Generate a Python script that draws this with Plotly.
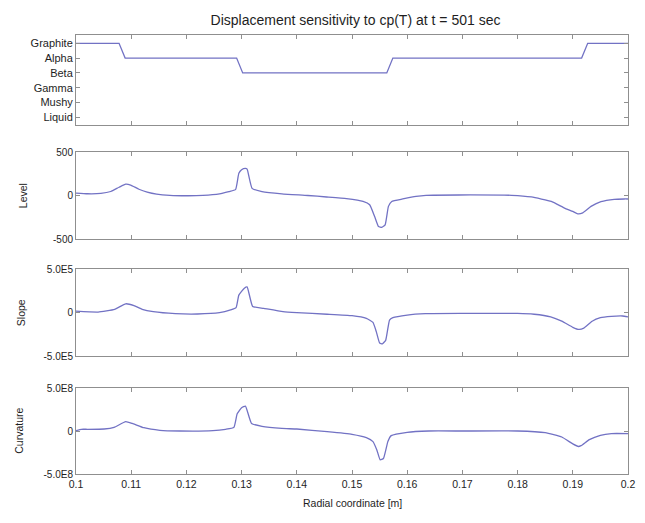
import plotly.graph_objects as go

# ---------------- data ----------------
phase_labels = ["Liquid", "Mushy", "Gamma", "Beta", "Alpha", "Graphite"]
phase_x = [0.100, 0.1078, 0.1089, 0.1291, 0.1302, 0.1563, 0.1574, 0.1916, 0.1927, 0.200]
phase_y = [5, 5, 4, 4, 3, 3, 4, 4, 5, 5]

level_x = [0.100, 0.1021, 0.1045, 0.1063, 0.1078, 0.109, 0.1099, 0.1114, 0.1129, 0.1146,
           0.117, 0.120, 0.123, 0.126, 0.1277, 0.1289, 0.1295, 0.130, 0.1307, 0.131,
           0.1319, 0.1337, 0.1373, 0.142, 0.1454, 0.149, 0.152, 0.1532, 0.1541, 0.1548,
           0.1554, 0.156, 0.1566, 0.1572, 0.1592, 0.1616, 0.1634, 0.1693, 0.1789, 0.1825,
           0.1861, 0.1885, 0.190, 0.1909, 0.1918, 0.1933, 0.1951, 0.1975, 0.1993, 0.200]
level_y = [28, 20, 24, 46, 95, 130, 120, 72, 40, 17,
           2, -3, 1, 19, 45, 67, 255, 296, 311, 303,
           82, 45, 19, 0, -17, -37, -68, -106, -241, -357,
           -365, -338, -125, -68, -40, -10, 2, 6, 2, -17,
           -68, -145, -183, -210, -199, -125, -71, -44, -40, -40]

slope_x = [0.100, 0.104, 0.107, 0.109, 0.1105, 0.112, 0.114, 0.118, 0.122, 0.126,
           0.128, 0.129, 0.1295, 0.1305, 0.131, 0.132, 0.134, 0.1375, 0.140, 0.1455,
           0.150, 0.1526, 0.1538, 0.1544, 0.155, 0.1555, 0.1561, 0.1568, 0.1574, 0.160,
           0.1633, 0.170, 0.180, 0.183, 0.186, 0.188, 0.190, 0.1911, 0.192, 0.1935,
           0.195, 0.197, 0.199, 0.200]
slope_y = [1.5e4, 0.5e4, 3.7e4, 1.0e5, 8.0e4, 3.7e4, 1.0e4, -1.3e4, -1.7e4, -0.2e4,
           3.0e4, 5.6e4, 2.0e5, 2.8e5, 2.95e5, 7.0e4, 4.8e4, 1.0e4, -0.2e4, -2.0e4,
           -3.7e4, -6.8e4, -1.14e5, -2.2e5, -3.5e5, -3.6e5, -3.2e5, -8.7e4, -6.0e4, -2.9e4,
           -1.3e4, -1.0e4, -1.0e4, -2.0e4, -5.0e4, -1.0e5, -1.7e5, -1.95e5, -1.8e5, -1.0e5,
           -6.0e4, -4.5e4, -4.0e4, -5.0e4]

curv_x = [0.100, 0.101, 0.1021, 0.1051, 0.1069, 0.109, 0.1102, 0.1123, 0.1152, 0.1188,
          0.1248, 0.1271, 0.1286, 0.1292, 0.130, 0.1307, 0.1318, 0.1337, 0.1373, 0.140,
          0.1455, 0.150, 0.1526, 0.1538, 0.1545, 0.1551, 0.1557, 0.1565, 0.1571, 0.160,
          0.1639, 0.170, 0.180, 0.185, 0.188, 0.190, 0.191, 0.1915, 0.193, 0.195,
          0.197, 0.200]
curv_y = [0.5e7, 2.0e7, 2.0e7, 2.3e7, 4.2e7, 1.08e8, 8.8e7, 3.8e7, 0.8e7, 0.0,
          0.4e7, 2.0e7, 4.2e7, 2.0e8, 2.7e8, 2.9e8, 8.8e7, 5.4e7, 3.0e7, 2.3e7,
          -0.8e7, -3.8e7, -7.7e7, -1.23e8, -2.2e8, -3.35e8, -3.2e8, -1.23e8, -5.4e7, -1.5e7,
          0.0, 0.0, 0.0, -2.0e7, -7.0e7, -1.5e8, -1.8e8, -1.7e8, -1.0e8, -5.0e7,
          -3.0e7, -3.0e7]

x_tickvals = [0.10, 0.11, 0.12, 0.13, 0.14, 0.15, 0.16, 0.17, 0.18, 0.19, 0.20]
x_ticktext = ["0.1", "0.11", "0.12", "0.13", "0.14", "0.15", "0.16", "0.17", "0.18", "0.19", "0.2"]
level_ticks = [-500, 0, 500]
level_ticktext = ["-500", "0", "500"]
slope_ticks = [-5.0e5, 0, 5.0e5]
slope_ticktext = ["-5.0E5", "0", "5.0E5"]
curv_ticks = [-5.0e8, 0, 5.0e8]
curv_ticktext = ["-5.0E8", "0", "5.0E8"]

title_text = "Displacement sensitivity to cp(T) at t = 501 sec"
xlabel = "Radial coordinate [m]"
ylabels = ["Level", "Slope", "Curvature"]

# ---------------- figure ----------------
W, H = 645, 523
ML, MR, MT, MB = 76, 10, 35, 49
PW = W - ML - MR
PH = H - MT - MB

def dom(top_px, bot_px):
    return [(H - MB - bot_px) / PH, (H - MB - top_px) / PH]

line_col = "#7272c4"
axis_col = "#8f8f8f"
text_col = "#1e1e1e"
font_fam = "Liberation Sans, Arial, sans-serif"

fig = go.Figure()
series = [(phase_x, phase_y), (level_x, level_y), (slope_x, slope_y), (curv_x, curv_y)]
for i, (xs, ys) in enumerate(series):
    sfx = "" if i == 0 else str(i + 1)
    fig.add_trace(go.Scatter(x=xs, y=ys, mode="lines", xaxis="x" + sfx, yaxis="y" + sfx,
                             line=dict(color=line_col, width=1.3, shape="spline",
                                       smoothing=0.4),
                             showlegend=False, hoverinfo="skip"))
fig.data[0].line.shape = "linear"

domains = [dom(35, 125), dom(152, 239), dom(269, 356), dom(388, 474)]
common_ax = dict(showline=True, mirror="ticks", linecolor=axis_col, linewidth=1,
                 ticks="inside", ticklen=4, tickcolor=axis_col, showgrid=False,
                 zeroline=False, tickfont=dict(size=10, color=text_col, family=font_fam))

layout = dict(width=W, height=H, margin=dict(l=ML, r=MR, t=MT, b=MB),
              paper_bgcolor="white", plot_bgcolor="white",
              font=dict(family=font_fam, color=text_col))
for i in range(4):
    sfx = "" if i == 0 else str(i + 1)
    xa = dict(common_ax, domain=[0, 1], range=[0.1, 0.2], anchor="y" + sfx,
              tickvals=x_tickvals, ticktext=x_ticktext, showticklabels=(i == 3))
    if i == 3:
        xa["tickfont"] = dict(size=10.5, color=text_col, family=font_fam)
        xa["ticklabeloverflow"] = "allow"
    layout["xaxis" + sfx] = xa
ya_specs = [
    dict(range=[-0.52, 5.56], tickvals=list(range(6)), ticktext=phase_labels,
         tickfont=dict(size=11, color=text_col, family=font_fam)),
    dict(range=[-500, 500], tickvals=level_ticks, ticktext=level_ticktext),
    dict(range=[-5.0e5, 5.0e5], tickvals=slope_ticks, ticktext=slope_ticktext),
    dict(range=[-5.0e8, 5.0e8], tickvals=curv_ticks, ticktext=curv_ticktext),
]
for i in range(4):
    sfx = "" if i == 0 else str(i + 1)
    ya = dict(common_ax)
    ya.update(ya_specs[i])
    ya.update(domain=domains[i], anchor="x" + sfx)
    layout["yaxis" + sfx] = ya

layout["title"] = dict(text=title_text, x=(ML + PW / 2) / W, xanchor="center",
                       y=1 - 20 / H, yanchor="middle", yref="container",
                       font=dict(size=14, color=text_col, family=font_fam))

annotations = [dict(text=xlabel, xref="paper", yref="paper", x=0.5,
                    y=(H - MB - 503) / PH, xanchor="center", yanchor="middle",
                    showarrow=False, font=dict(size=10.5, color=text_col, family=font_fam))]
ylab_px = [22, 20, 18]
for i, lab in enumerate(ylabels):
    d = domains[i + 1]
    annotations.append(dict(text=lab, xref="paper", yref="paper",
                            x=(ylab_px[i] - ML) / PW, y=(d[0] + d[1]) / 2,
                            xanchor="center", yanchor="middle", textangle=-90,
                            showarrow=False,
                            font=dict(size=10.5, color=text_col, family=font_fam)))
layout["annotations"] = annotations

fig.update_layout(**layout)
fig.write_html("out.html", config={"displayModeBar": False},
               post_script="document.body.style.margin='0';document.body.style.padding='0';")
